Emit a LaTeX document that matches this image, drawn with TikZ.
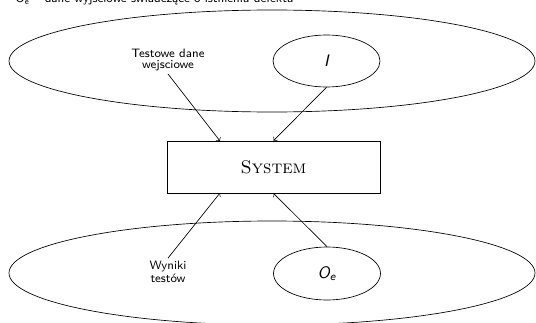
\documentclass[tikz,border=0pt]{standalone}
\usepackage{fontspec}
\usetikzlibrary{shapes.geometric}

\begin{document}
\begin{tikzpicture}[x={(0.6pt, 0pt)}, y={(0pt, -0.6pt)}]
  \tikzstyle{label}=[font=\sffamily\fontsize{7.3}{6.2}\selectfont, align=center, inner sep=0pt]
  \tikzstyle{set}=[draw, ellipse, inner sep=0pt]
  \useasboundingbox (0, 0) rectangle (536, 322);

  \node[label, anchor=base west] (note) at (15, 3) {O\textsubscript{e} -- dane wyjściowe świadczące o istnieniu defektu};

  \node[set, minimum width=315.6pt, minimum height=61.2pt] (inall) at (272, 61) {};
  \node[set, minimum width=315.6pt, minimum height=62.4pt] (outall) at (272, 273) {};

  \node[draw, minimum width=127.8pt, minimum height=31.2pt] (sys) at (273.5, 167) {\fontsize{11}{13}\selectfont\textsc{System}};

  \node[set, minimum width=64.2pt, minimum height=31.2pt] (iset) at (326.5, 61) {\fontsize{10}{12}\selectfont\sffamily\slshape I};
  \node[set, minimum width=64.2pt, minimum height=31.8pt] (oset) at (327, 273.5) {\fontsize{10}{12}\selectfont\sffamily\slshape O\textsubscript{e}};

  \node[label] (tin) at (168, 60) {Testowe dane\\wejsciowe};
  \node[label] (tout) at (168, 272) {Wyniki\\testów};

  \coordinate (sysin) at (220, 141);
  \coordinate (sysout) at (220, 193);

  \draw[->] (tin.south) ++(0, 3) -- (sysin);
  \draw[->] (iset.south) -- (sys.north);
  \draw[->] (tout.north) ++(0, -3) -- (sysout);
  \draw[->] (oset.north) -- (sys.south);
\end{tikzpicture}
\end{document}
